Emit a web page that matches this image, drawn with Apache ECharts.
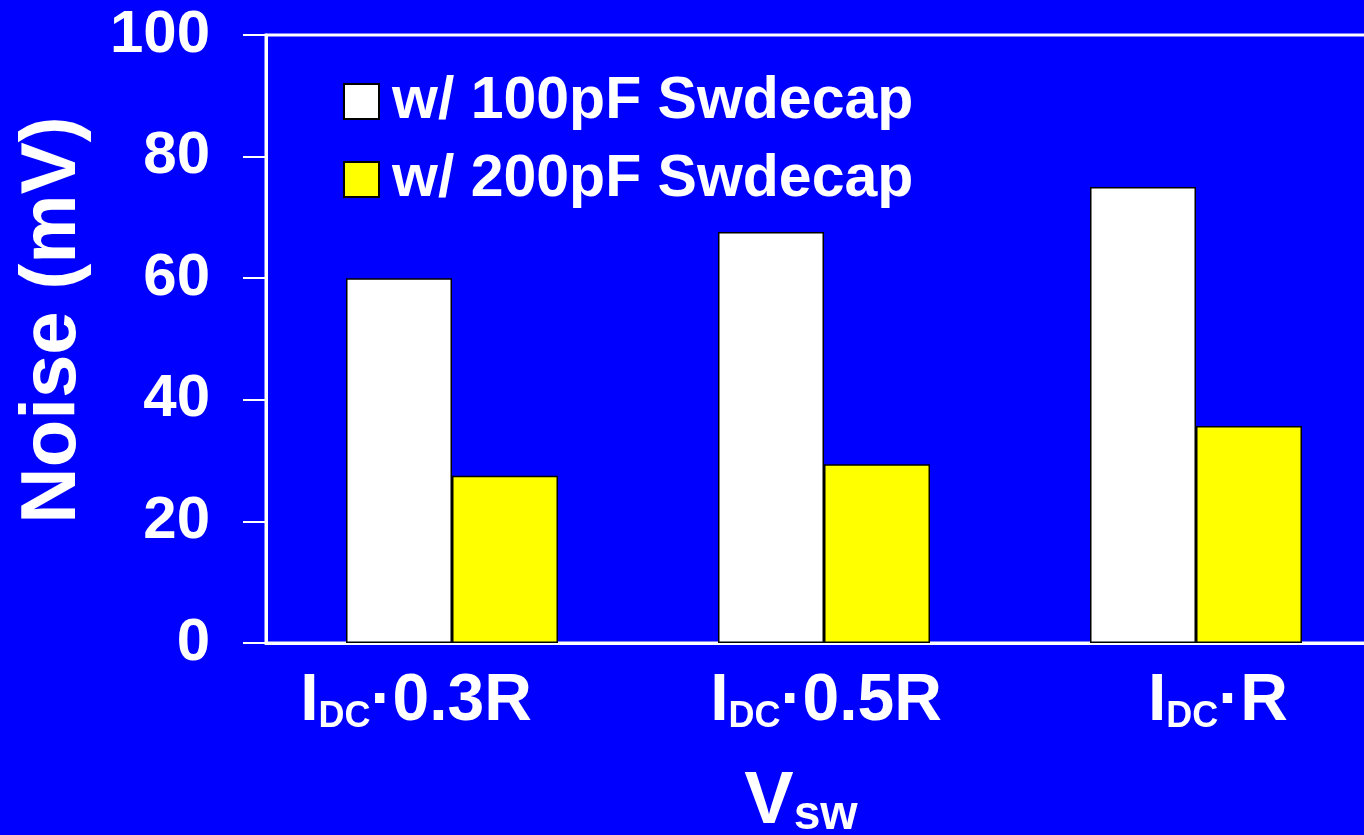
<!DOCTYPE html>
<html>
<head>
<meta charset="utf-8">
<script src="https://cdn.jsdelivr.net/npm/echarts@6/dist/echarts.min.js"></script>
<style>
html,body{margin:0;padding:0;background:#0000FE;}
#chart{width:1364px;height:835px;}
</style>
</head>
<body>
<div id="chart"></div>
<script>
var categories = ['I_DC\u00b70.3R', 'I_DC\u00b70.5R', 'I_DC\u00b7R'];
var labelShift = [-36, 2, 22];
var seriesNames = ['w/ 100pF Swdecap', 'w/ 200pF Swdecap'];
var noise100 = [60, 67.6, 75];
var noise200 = [27.5, 29.4, 35.7];
var yTicks = [0, 20, 40, 60, 80, 100];

var FONT = '"Liberation Sans", Arial, sans-serif';
var chart = echarts.init(document.getElementById('chart'));

var catData = categories.map(function (c, i) {
  var s = labelShift[i];
  return {
    value: c,
    textStyle: { padding: s < 0 ? [0, -2 * s, 0, 0] : [0, 0, 0, 2 * s] }
  };
});

chart.setOption({
  backgroundColor: '#0000FE',
  animation: false,
  grid: {
    left: 266, top: 35, width: 1116, height: 608,
    outerBoundsMode: 'none',
    containLabel: false,
    show: true, borderColor: '#FFFFFF', borderWidth: 3, backgroundColor: 'transparent'
  },
  legend: {
    orient: 'vertical',
    left: 338, top: 67,
    itemWidth: 35, itemHeight: 35, itemGap: 19,
    icon: 'rect',
    textStyle: { color: '#FFFFFF', fontSize: 59, fontWeight: 'bold', fontFamily: FONT, padding: [0, 0, 0, 8] },
    data: seriesNames
  },
  xAxis: {
    type: 'category',
    data: catData,
    axisLine: { lineStyle: { color: '#FFFFFF', width: 3 } },
    axisTick: { length: 15, lineStyle: { color: '#FFFFFF', width: 2 } },
    axisLabel: {
      margin: 26,
      interval: 0,
      formatter: function (v) {
        var parts = v.split('_DC');
        return '{m|' + parts[0] + '}{s|DC}{m|' + parts[1] + '}';
      },
      rich: {
        m: { color: '#FFFFFF', fontSize: 66, fontWeight: 'bold', fontFamily: FONT, lineHeight: 66, verticalAlign: 'bottom' },
        s: { color: '#FFFFFF', fontSize: 36, fontWeight: 'bold', fontFamily: FONT, lineHeight: 46, verticalAlign: 'bottom' }
      }
    },
    name: '{v|V}{s|sw}',
    nameLocation: 'middle',
    nameGap: 125,
    nameTextStyle: {
      padding: [0, 46, 0, 0],
      rich: {
        v: { color: '#FFFFFF', fontSize: 74, fontWeight: 'bold', fontFamily: FONT, lineHeight: 72, verticalAlign: 'bottom' },
        s: { color: '#FFFFFF', fontSize: 48, fontWeight: 'bold', fontFamily: FONT, lineHeight: 33, verticalAlign: 'bottom' }
      }
    }
  },
  yAxis: {
    type: 'value',
    min: yTicks[0], max: yTicks[yTicks.length - 1], interval: yTicks[1] - yTicks[0],
    axisLine: { show: true, lineStyle: { color: '#FFFFFF', width: 3 } },
    axisTick: { show: true, length: 23, lineStyle: { color: '#FFFFFF', width: 2 } },
    splitLine: { show: false },
    axisLabel: { color: '#FFFFFF', fontSize: 60, fontWeight: 'bold', fontFamily: FONT, margin: 56 },
    name: 'Noise (mV)',
    nameLocation: 'middle',
    nameGap: 174,
    nameTextStyle: { color: '#FFFFFF', fontSize: 78, fontWeight: 'bold', fontFamily: FONT, padding: [0, 0, 0, 38] }
  },
  series: [
    {
      name: seriesNames[0], type: 'bar', data: noise100,
      barWidth: 106, barGap: '0%',
      itemStyle: { color: '#FFFFFF', borderColor: '#000000', borderWidth: 1.5 }
    },
    {
      name: seriesNames[1], type: 'bar', data: noise200,
      barWidth: 106,
      itemStyle: { color: '#FFFF00', borderColor: '#000000', borderWidth: 1.5 }
    }
  ]
});
</script>
</body>
</html>
